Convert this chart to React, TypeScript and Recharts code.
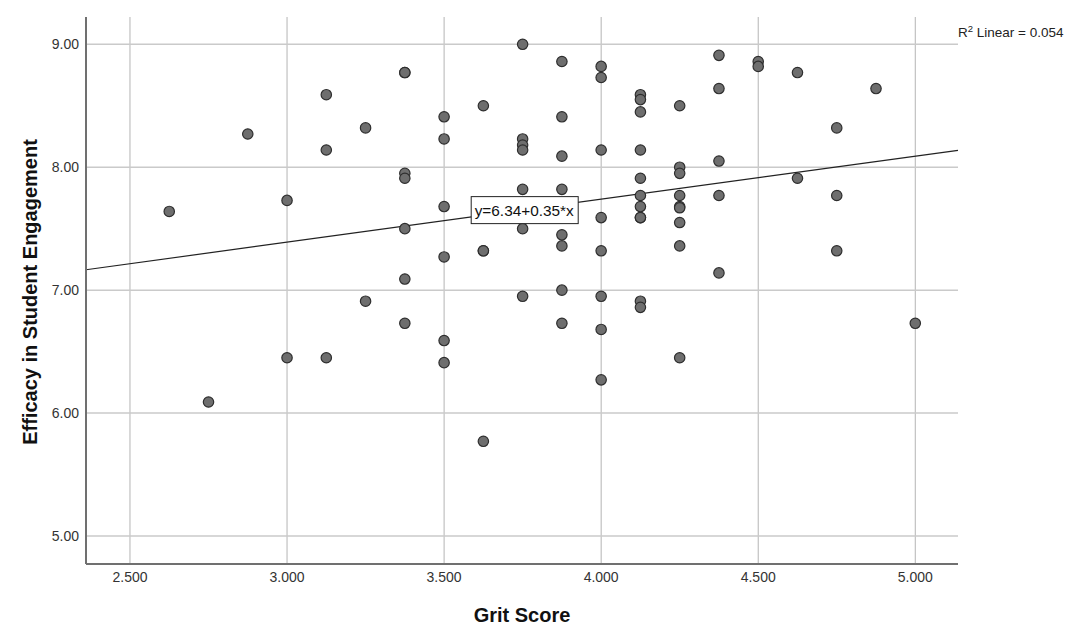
import {
  ReferenceDot,
  ReferenceLine,
  Scatter,
  ScatterChart,
  XAxis,
  YAxis,
} from "recharts";

// grit score (x) and efficacy in student engagement (y), one entry per respondent
const gritScores = [
  2.625, 2.75, 2.875,
  3.0, 3.0,
  3.125, 3.125, 3.125,
  3.25, 3.25,
  3.375, 3.375, 3.375, 3.375, 3.375, 3.375, 3.375,
  3.5, 3.5, 3.5, 3.5, 3.5, 3.5,
  3.625, 3.625, 3.625, 3.625,
  3.75, 3.75, 3.75, 3.75, 3.75, 3.75, 3.75,
  3.875, 3.875, 3.875, 3.875, 3.875, 3.875, 3.875, 3.875,
  4.0, 4.0, 4.0, 4.0, 4.0, 4.0, 4.0, 4.0,
  4.125, 4.125, 4.125, 4.125, 4.125, 4.125, 4.125, 4.125, 4.125, 4.125, 4.125,
  4.25, 4.25, 4.25, 4.25, 4.25, 4.25, 4.25, 4.25, 4.25,
  4.375, 4.375, 4.375, 4.375, 4.375,
  4.5, 4.5,
  4.625, 4.625,
  4.75, 4.75, 4.75,
  4.875,
  5.0,
];

const engagement = [
  7.64, 6.09, 8.27,
  7.73, 6.45,
  8.59, 8.14, 6.45,
  8.32, 6.91,
  8.77, 8.77, 7.95, 7.91, 7.5, 7.09, 6.73,
  8.41, 8.23, 7.68, 7.27, 6.59, 6.41,
  8.5, 7.32, 7.32, 5.77,
  9.0, 8.23, 8.18, 8.14, 7.82, 7.5, 6.95,
  8.86, 8.41, 8.09, 7.82, 7.45, 7.36, 7.0, 6.73,
  8.82, 8.73, 8.14, 7.59, 7.32, 6.95, 6.68, 6.27,
  8.59, 8.55, 8.45, 8.14, 7.91, 7.77, 7.68, 7.59, 7.59, 6.91, 6.86,
  8.5, 8.0, 7.95, 7.77, 7.68, 7.67, 7.55, 7.36, 6.45,
  8.91, 8.64, 8.05, 7.77, 7.14,
  8.86, 8.82,
  8.77, 7.91,
  8.32, 7.77, 7.32,
  8.64,
  6.73,
];

const xTicks = [2.5, 3.0, 3.5, 4.0, 4.5, 5.0];
const yTicks = [5, 6, 7, 8, 9];
const xDomain = [2.36, 5.136];
const yDomain = [4.772, 9.222];

// linear fit
const intercept = 6.34;
const slope = 0.35;
const rSquared = 0.054;
const fitLabelAt = { x: 3.755, y: 7.655 };

const points = gritScores.map((x, i) => ({ x, y: engagement[i] }));
const fitLine = xDomain.map((x) => ({ x, y: intercept + slope * x }));
const fitText = `y=${intercept.toFixed(2)}+${slope.toFixed(2)}*x`;

const font = "'Liberation Sans', Arial, sans-serif";

const Dot = (p: any) => (
  <circle cx={p.cx} cy={p.cy} r={5.2} fill="#6e6e6e" stroke="#2e2e2e" strokeWidth={1.2} />
);

const FitLabel = (p: any) => (
  <g>
    <rect x={p.cx - 53} y={p.cy - 13} width={107} height={27} fill="#fff" stroke="#222" strokeWidth={1} />
    <text
      x={p.cx}
      y={p.cy + 6}
      textAnchor="middle"
      fontSize={15}
      fontFamily={font}
      fill="#111"
      textLength={99}
      lengthAdjust="spacingAndGlyphs"
    >
      {fitText}
    </text>
  </g>
);

export default function App() {
  return (
    <div style={{ position: "absolute", left: 0, top: 0, width: 1078, height: 635, background: "#fff", fontFamily: font }}>
      <ScatterChart width={1078} height={635} margin={{ top: 17, right: 120, bottom: 0, left: 0 }}>
        <XAxis
          type="number"
          dataKey="x"
          domain={xDomain}
          ticks={xTicks}
          allowDataOverflow
          height={71}
          tickLine={false}
          tickFormatter={(v) => Number(v).toFixed(3)}
          tick={{ fontSize: 14, fill: "#333", fontFamily: font }}
          axisLine={{ stroke: "#707070", strokeWidth: 2 }}
        />
        <YAxis
          type="number"
          dataKey="y"
          domain={yDomain}
          ticks={yTicks}
          allowDataOverflow
          width={86}
          tickLine={false}
          tickMargin={1}
          tickFormatter={(v) => Number(v).toFixed(2)}
          tick={{ fontSize: 14, fill: "#333", fontFamily: font }}
          axisLine={{ stroke: "#707070", strokeWidth: 2 }}
        />
        {/* grid only at tick values, no frame on top/right */}
        {xTicks.map((t) => (
          <ReferenceLine key={`gx${t}`} x={t} stroke="#b4b4b4" strokeWidth={1} />
        ))}
        {yTicks.map((t) => (
          <ReferenceLine key={`gy${t}`} y={t} stroke="#cacaca" strokeWidth={1.5} />
        ))}
        <ReferenceLine segment={fitLine} stroke="#222" strokeWidth={1.2} />
        <Scatter data={points} shape={Dot} isAnimationActive={false} />
        <ReferenceDot x={fitLabelAt.x} y={fitLabelAt.y} r={0} shape={FitLabel} />
      </ScatterChart>
      <svg width={1078} height={635} style={{ position: "absolute", left: 0, top: 0, pointerEvents: "none" }}>
        <text x={522} y={622} textAnchor="middle" fontSize={20} fontWeight="bold" fontFamily={font} fill="#111">
          Grit Score
        </text>
        <text
          transform="translate(37,292) rotate(-90)"
          textAnchor="middle"
          fontSize={20}
          fontWeight="bold"
          fontFamily={font}
          fill="#111"
        >
          Efficacy in Student Engagement
        </text>
        <text x={958} y={37} fontSize={13.5} fontFamily={font} fill="#222">
          R<tspan dy={-5} fontSize={9.5}>2</tspan>
          <tspan dy={5}> Linear = {rSquared.toFixed(3)}</tspan>
        </text>
      </svg>
    </div>
  );
}
